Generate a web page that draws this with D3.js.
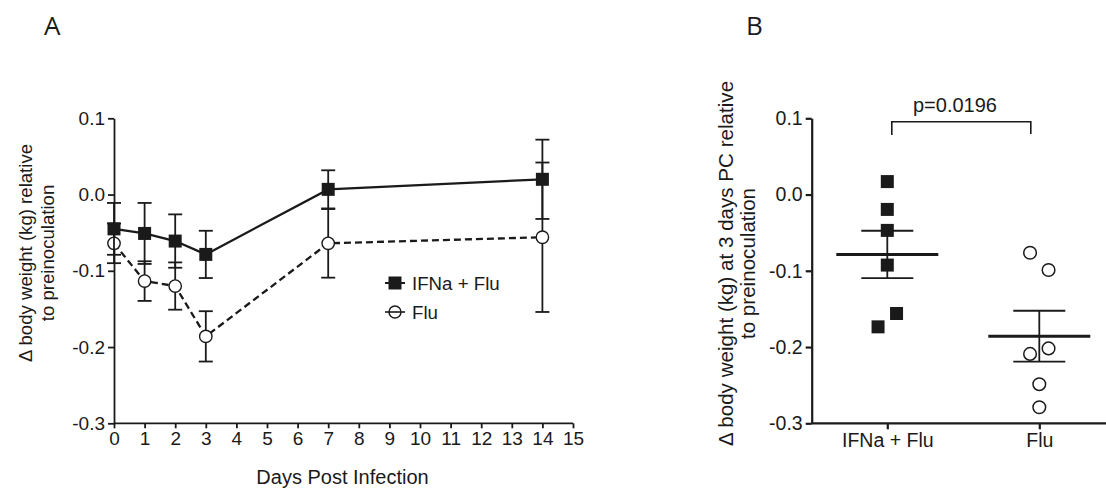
<!DOCTYPE html>
<html><head><meta charset="utf-8">
<script src="https://cdn.jsdelivr.net/npm/d3@7"></script>
<style>
body{margin:0;background:#fff;}
text{font-family:"Liberation Sans",Arial,sans-serif;fill:#1a1a1a;}
</style></head>
<body>
<svg id="c" width="1106" height="488"></svg>
<script>
// ---------- DATA ----------
const days = [0, 1, 2, 3, 7, 14];
const ifnMean = [-0.045, -0.051, -0.061, -0.0785, 0.0068, 0.020];
const ifnSem  = [0.034, 0.040, 0.035, 0.031, 0.025, 0.052];
const fluMean = [-0.064, -0.1135, -0.120, -0.186, -0.064, -0.056];
const fluSem  = [0.026, 0.026, 0.031, 0.033, 0.045, 0.098];
const xTicksA = d3.range(0, 16);
const yTicks = [0.1, 0.0, -0.1, -0.2, -0.3];
const seriesNames = ["IFNa + Flu", "Flu"];

const groupsB = ["IFNa + Flu", "Flu"];
const ifnPoints = [0.017, -0.0195, -0.047, -0.0925, -0.1735, -0.156];
const fluPoints = [-0.0763, -0.099, -0.209, -0.2018, -0.2487, -0.279];
const meanB = [-0.0785, -0.1857];
const semB  = [0.031, 0.0333];
const pText = "p=0.0196";

// ---------- SETUP ----------
const svg = d3.select("#c");
const ink = "#1a1a1a";
const yA = d3.scaleLinear().domain([-0.3, 0.1]).range([423.3, 118.3]);
const xA = d3.scaleLinear().domain([0, 15]).range([114, 573]);
const fmt = d => d3.format(".1f")(d).replace("\u2212", "-");

// Panel letters
svg.append("text").attr("x", 44).attr("y", 35).text("A")
  .style("font-family", "'Open Sans',sans-serif").style("font-size", "26px");
svg.append("text").attr("x", 746).attr("y", 35).text("B")
  .style("font-family", "'Open Sans',sans-serif").style("font-size", "26px");

// ---------- PANEL A ----------
const gA = svg.append("g");
const axY = gA.append("g").attr("transform", `translate(${xA(0)},0)`)
  .call(d3.axisLeft(yA).tickValues(yTicks).tickFormat(fmt).tickSize(6).tickSizeOuter(0).tickPadding(3));
const axX = gA.append("g").attr("transform", `translate(0,${yA(-0.3)})`)
  .call(d3.axisBottom(xA).tickValues(xTicksA).tickFormat(d3.format("d")).tickSize(5).tickSizeOuter(0).tickPadding(3));
[axY, axX].forEach(a => {
  a.selectAll("path,line").attr("stroke", ink).attr("stroke-width", 1.8);
  a.selectAll("text").style("font-size", "19px").attr("fill", ink);
});
axX.select(".domain").attr("d", `M${xA(0)},0H${xA(15)}`);

gA.append("text").attr("transform", "translate(32,253) rotate(-90)")
  .attr("text-anchor", "middle").style("font-size", "18.6px").text("Δ body weight (kg) relative");
gA.append("text").attr("transform", "translate(54,253) rotate(-90)")
  .attr("text-anchor", "middle").style("font-size", "18.6px").text("to preinoculation");
gA.append("text").attr("x", 342.5).attr("y", 483.5).attr("text-anchor", "middle")
  .style("font-size", "20px").text("Days Post Infection");

function errBars(g, means, sems) {
  const cap = 7;
  days.forEach((d, i) => {
    const x = xA(d), y1 = yA(means[i] + sems[i]), y2 = yA(means[i] - sems[i]);
    g.append("line").attr("x1", x).attr("x2", x).attr("y1", y1).attr("y2", y2)
      .attr("stroke", ink).attr("stroke-width", 1.8);
    [y1, y2].forEach(y => g.append("line").attr("x1", x - cap).attr("x2", x + cap)
      .attr("y1", y).attr("y2", y).attr("stroke", ink).attr("stroke-width", 1.8));
  });
}
const line = d3.line().x(d => xA(d[0])).y(d => yA(d[1]));

// Flu series
const gFlu = gA.append("g");
errBars(gFlu, fluMean, fluSem);
gFlu.append("path").datum(days.map((d, i) => [d, fluMean[i]])).attr("d", line)
  .attr("fill", "none").attr("stroke", ink).attr("stroke-width", 2.3).attr("stroke-dasharray", "7,4");
gFlu.selectAll("circle").data(days).join("circle")
  .attr("cx", d => xA(d)).attr("cy", (d, i) => yA(fluMean[i])).attr("r", 6.2)
  .attr("fill", "#fff").attr("stroke", ink).attr("stroke-width", 1.4);

// IFNa series
const gIfn = gA.append("g");
errBars(gIfn, ifnMean, ifnSem);
gIfn.append("path").datum(days.map((d, i) => [d, ifnMean[i]])).attr("d", line)
  .attr("fill", "none").attr("stroke", ink).attr("stroke-width", 2.3);
const sq = 13;
gIfn.selectAll("rect").data(days).join("rect")
  .attr("x", d => xA(d) - sq / 2).attr("y", (d, i) => yA(ifnMean[i]) - sq / 2)
  .attr("width", sq).attr("height", sq).attr("fill", ink);

// Legend
const lg = gA.append("g").attr("transform", "translate(395,283)");
lg.append("line").attr("x1", -10).attr("x2", 10).attr("y1", 0).attr("y2", 0).attr("stroke", ink).attr("stroke-width", 2);
lg.append("rect").attr("x", -6.5).attr("y", -6.5).attr("width", 13).attr("height", 13).attr("fill", ink);
lg.append("text").attr("x", 17).attr("y", 7).style("font-size", "18.7px").text(seriesNames[0]);
lg.append("line").attr("x1", -10).attr("x2", 10).attr("y1", 29).attr("y2", 29).attr("stroke", ink).attr("stroke-width", 1.6);
lg.append("circle").attr("cx", 0).attr("cy", 29).attr("r", 6).attr("fill", "none").attr("stroke", ink).attr("stroke-width", 1.4);
lg.append("text").attr("x", 17).attr("y", 36).style("font-size", "18.7px").text(seriesNames[1]);

// ---------- PANEL B ----------
const gB = svg.append("g");
const yB = d3.scaleLinear().domain([-0.3, 0.1]).range([423.3, 118.3]);
const xB = d3.scalePoint().domain(groupsB).range([887.3, 1039.3]);
const bLeft = 811.7, bRight = 1106;

const axYB = gB.append("g").attr("transform", `translate(${bLeft},0)`)
  .call(d3.axisLeft(yB).tickValues(yTicks).tickFormat(fmt).tickSize(6).tickSizeOuter(0).tickPadding(3));
const axXB = gB.append("g").attr("transform", `translate(0,${yB(-0.3)})`)
  .call(d3.axisBottom(xB).tickSize(6).tickSizeOuter(0).tickPadding(4));
[axYB, axXB].forEach(a => {
  a.selectAll("path,line").attr("stroke", ink).attr("stroke-width", 2.2);
  a.selectAll("text").style("font-size", "19.5px").attr("fill", ink);
});
axXB.select(".domain").attr("d", `M${bLeft},0H${bRight}`);

gB.append("text").attr("transform", "translate(733,263.5) rotate(-90)")
  .attr("text-anchor", "middle").style("font-size", "20.6px").text("Δ body weight (kg) at 3 days PC relative");
gB.append("text").attr("transform", "translate(755,263.5) rotate(-90)")
  .attr("text-anchor", "middle").style("font-size", "20.6px").text("to preinoculation");

// simple swarm: clusters of overlapping points spread symmetrically in data order
function swarm(values, minGap, spread) {
  const ys = values.map(v => yB(v));
  const sorted = ys.map((y, i) => i).sort((a, b) => ys[a] - ys[b]);
  const off = new Array(values.length).fill(0);
  let cluster = [sorted[0]];
  const flush = () => {
    const c = cluster.slice().sort((a, b) => a - b);
    c.forEach((k, j) => { off[k] = (j - (c.length - 1) / 2) * spread; });
  };
  for (let s = 1; s < sorted.length; s++) {
    if (ys[sorted[s]] - ys[sorted[s - 1]] < minGap) cluster.push(sorted[s]);
    else { flush(); cluster = [sorted[s]]; }
  }
  flush();
  return off;
}

const offI = swarm(ifnPoints, 18, 18.5);
const offF = swarm(fluPoints, 18, 18.5);

gB.selectAll("rect.pt").data(ifnPoints).join("rect").attr("class", "pt")
  .attr("x", (d, i) => xB(groupsB[0]) + offI[i] - 6.5).attr("y", d => yB(d) - 6.5)
  .attr("width", 13).attr("height", 13).attr("fill", ink);
gB.selectAll("circle.pt").data(fluPoints).join("circle").attr("class", "pt")
  .attr("cx", (d, i) => xB(groupsB[1]) + offF[i]).attr("cy", d => yB(d)).attr("r", 6.3)
  .attr("fill", "#fff").attr("stroke", ink).attr("stroke-width", 1.5);

// mean +/- SEM
groupsB.forEach((g, i) => {
  const x = xB(g);
  gB.append("line").attr("x1", x).attr("x2", x).attr("y1", yB(meanB[i] + semB[i])).attr("y2", yB(meanB[i] - semB[i]))
    .attr("stroke", ink).attr("stroke-width", 1.8);
  [meanB[i] + semB[i], meanB[i] - semB[i]].forEach(v =>
    gB.append("line").attr("x1", x - 26).attr("x2", x + 26).attr("y1", yB(v)).attr("y2", yB(v))
      .attr("stroke", ink).attr("stroke-width", 1.8));
  gB.append("line").attr("x1", x - 51).attr("x2", x + 51).attr("y1", yB(meanB[i])).attr("y2", yB(meanB[i]))
    .attr("stroke", ink).attr("stroke-width", 3);
});

// significance bracket
const bx1 = xB(groupsB[0]) + 4.5, bx2 = xB(groupsB[1]) - 8.5, by = 121.7;
gB.append("path").attr("d", `M${bx1},135V${by}H${bx2}V134`).attr("fill", "none")
  .attr("stroke", ink).attr("stroke-width", 1.6);
gB.append("text").attr("x", 955).attr("y", 112).attr("text-anchor", "middle")
  .style("font-size", "20px").text(pText);
</script>
</body></html>
